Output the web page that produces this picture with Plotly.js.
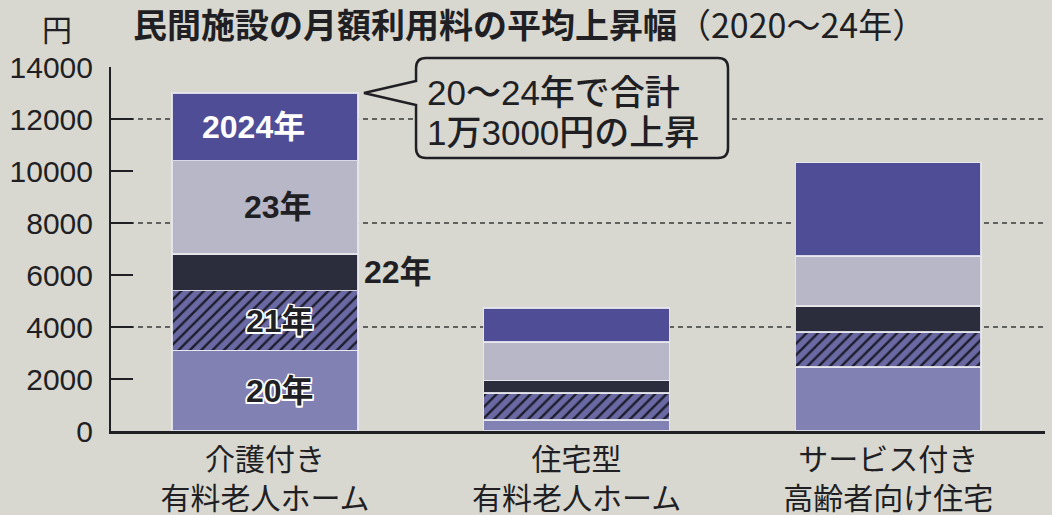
<!DOCTYPE html>
<html>
<head>
<meta charset="utf-8">
<script src="https://cdn.plot.ly/plotly-3.0.1.min.js"></script>
<style>html,body{margin:0;padding:0;background:#d8d8d0;}</style>
</head>
<body>
<div id="chart" style="width:1052px;height:515px;"></div>
<script>
// ---- data ----
const categories = ['介護付き<br>有料老人ホーム', '住宅型<br>有料老人ホーム', 'サービス付き<br>高齢者向け住宅'];
const seriesNames = ['20年', '21年', '22年', '23年', '2024年'];
const y2020 = [3100, 420, 2460];
const y2021 = [2300, 1050, 1340];
const y2022 = [1400, 480, 1000];
const y2023 = [3600, 1470, 1940];
const y2024 = [2600, 1320, 3580];
const yTicks = [0, 2000, 4000, 6000, 8000, 10000, 12000, 14000];
const gridValues = [4000, 8000, 12000];
const titleMain = '民間施設の月額利用料の平均上昇幅';
const titleSub = '（2020～24年）';
const unitLabel = '円';
const calloutLines = ['20～24年で合計', '1万3000円の上昇'];

// ---- style ----
const BG = '#d8d8d0';
const INK = '#1f1f24';
const FONT = 'Liberation Sans, Arial, Noto Sans CJK JP, sans-serif';
const colors = ['#8281b3', '#6a69a3', '#2b2c3c', '#b7b7c7', '#504d97'];
const BAR_W = 0.596;
const sepLine = {color: 'rgba(232,232,238,0.9)', width: 1.5};

const seriesValues = [y2020, y2021, y2022, y2023, y2024];
const traces = seriesValues.map((vals, i) => {
  const t = {
    type: 'bar',
    name: seriesNames[i],
    x: categories,
    y: vals,
    width: BAR_W,
    marker: {color: colors[i], line: sepLine},
    hoverinfo: 'skip'
  };
  if (i === 1) {
    t.marker.pattern = {shape: '/', fgcolor: '#1c1c2c', bgcolor: colors[i], size: 8, solidity: 0.3};
  }
  return t;
});

// plot-area geometry (for paper-coordinate decorations)
const W = 1052, H = 515, ML = 111, MR = 7, MT = 67, MB = 84;
const PW = W - ML - MR, PH = H - MT - MB;
const px = x => (x - ML) / PW;
const py = y => (H - MB - y) / PH;
const P = (x, y) => px(x).toFixed(4) + ',' + py(y).toFixed(4);

// callout bubble
const L = 416, R = 728, T = 58, B = 158, r = 10;
const bubble = 'M' + P(L + r, T) + ' L' + P(R - r, T) + ' Q' + P(R, T) + ' ' + P(R, T + r) +
  ' L' + P(R, B - r) + ' Q' + P(R, B) + ' ' + P(R - r, B) +
  ' L' + P(L + r, B) + ' Q' + P(L, B) + ' ' + P(L, B - r) +
  ' L' + P(L, 105) + ' L' + P(364, 93) + ' L' + P(L, 81) +
  ' L' + P(L, T + r) + ' Q' + P(L, T) + ' ' + P(L + r, T) + ' Z';

const shapes = gridValues.map(g => ({
  type: 'line', xref: 'paper', yref: 'y', x0: 0, x1: 1, y0: g, y1: g,
  layer: 'below', line: {color: '#3a3a3a', width: 1.3, dash: '5px,4px'}
}));
shapes.push({type: 'path', xref: 'paper', yref: 'paper', path: bubble,
  fillcolor: BG, line: {color: INK, width: 2.5}, layer: 'above'});

// segment labels on the first bar
function mid(i) {
  let base = 0;
  for (let k = 0; k < i; k++) base += seriesValues[k][0];
  return base + seriesValues[i][0] / 2;
}
const halo = '1.5px 1.5px 0 #fff, -1.5px -1.5px 0 #fff, 1.5px -1.5px 0 #fff, -1.5px 1.5px 0 #fff, 0 1.5px 0 #fff, 0 -1.5px 0 #fff, 1.5px 0 0 #fff, -1.5px 0 0 #fff';
const labelFont = (c, sh) => ({family: FONT, size: 32, color: c, weight: 700, shadow: sh || 'none'});
const annotations = [
  {x: 0, y: mid(4), text: seriesNames[4], showarrow: false, xshift: -11, font: labelFont('#ffffff')},
  {x: 0, y: mid(3), text: seriesNames[3], showarrow: false, xshift: 13, font: labelFont(INK)},
  {x: 0, y: mid(1), text: seriesNames[1], showarrow: false, xshift: 15, font: labelFont(INK, halo)},
  {x: 0, y: mid(0), text: seriesNames[0], showarrow: false, xshift: 15, font: labelFont(INK, halo)},
  {x: BAR_W / 2, y: mid(2), text: seriesNames[2], showarrow: false, xanchor: 'left', xshift: 4, font: labelFont(INK)},
  {xref: 'paper', yref: 'paper', x: px(57), y: py(31), xanchor: 'center', yanchor: 'middle', text: unitLabel, showarrow: false,
    font: {family: FONT, size: 30, color: INK}},
  {xref: 'paper', yref: 'paper', x: px(425), y: py(93), xanchor: 'left', yanchor: 'middle',
    text: calloutLines[0], showarrow: false, font: {family: FONT, size: 35, color: INK, weight: 500}},
  {xref: 'paper', yref: 'paper', x: px(425), y: py(132), xanchor: 'left', yanchor: 'middle',
    text: calloutLines[1], showarrow: false, font: {family: FONT, size: 35, color: INK, weight: 500}}
];

const layout = {
  width: W, height: H,
  margin: {l: ML, r: MR, t: MT, b: MB, pad: 0},
  paper_bgcolor: BG, plot_bgcolor: BG,
  barmode: 'stack',
  showlegend: false,
  title: {
    text: '<b>' + titleMain + '</b>' + titleSub,
    x: 133 / W, xanchor: 'left', xref: 'container',
    y: 1 - 26 / H, yanchor: 'middle', yref: 'container',
    font: {family: 'Noto Sans CJK JP, sans-serif', size: 34, color: INK}
  },
  xaxis: {
    type: 'category',
    range: [-0.494, 2.503],
    showline: true, linecolor: INK, linewidth: 3,
    ticks: '', showgrid: false, zeroline: false,
    tickfont: {family: FONT, size: 30, color: INK},
    ticklabelstandoff: 0
  },
  yaxis: {
    range: [0, 14000],
    tickvals: yTicks,
    ticktext: yTicks.map(String),
    ticks: 'inside', ticklen: 22, tickwidth: 2, tickcolor: INK,
    showline: true, linecolor: INK, linewidth: 2,
    showgrid: false, zeroline: false,
    tickfont: {family: FONT, size: 30, color: INK},
    ticklabelstandoff: 10
  },
  shapes: shapes,
  annotations: annotations
};

Plotly.newPlot('chart', traces, layout, {staticPlot: true, displayModeBar: false});
</script>
</body>
</html>
